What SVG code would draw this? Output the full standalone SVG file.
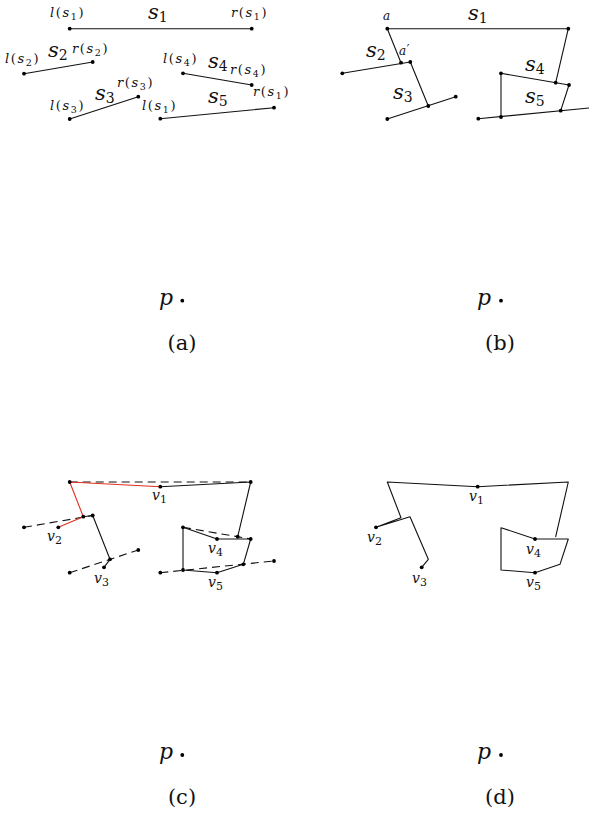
<svg xmlns="http://www.w3.org/2000/svg" width="589" height="815" viewBox="0 0 589 815">
<style>
.seg{stroke:#111;stroke-width:1.1;fill:none;stroke-linecap:round;stroke-linejoin:round}
.dash{stroke:#111;stroke-width:1.1;fill:none;stroke-dasharray:8 5}
.red{stroke:#e0301e;stroke-width:1.1;fill:none;stroke-linejoin:round}
.dot{fill:#000}
.t{font-family:"DejaVu Serif","Liberation Serif",serif;fill:#111}
.sm{font-size:13px;letter-spacing:1.6px}
.big{font-size:21px;font-style:italic}
.vl{font-size:14px;font-style:italic}
.i{font-style:italic}
.n{font-style:normal}
.cap{font-size:21px;text-anchor:middle}
.p{font-size:22px;font-style:italic}
</style>
<defs>
<circle id="d" r="1.9" class="dot"/>
</defs>

<!-- Panel (a) -->
<g id="panel-a">
<g id="a-segments">
<line class="seg" x1="69.7" y1="28.7" x2="251.7" y2="28.7"/>
<line class="seg" x1="24" y1="73.7" x2="92.7" y2="62"/>
<line class="seg" x1="69.7" y1="119" x2="138.3" y2="96.7"/>
<line class="seg" x1="183" y1="73.3" x2="251.7" y2="85"/>
<line class="seg" x1="160.3" y1="118.7" x2="274" y2="107.7"/>
</g>
<g id="a-dots">
<use href="#d" x="69.7" y="28.7"/><use href="#d" x="251.7" y="28.7"/>
<use href="#d" x="24" y="73.7"/><use href="#d" x="92.7" y="62"/>
<use href="#d" x="69.7" y="119"/><use href="#d" x="138.3" y="96.7"/>
<use href="#d" x="183" y="73.3"/><use href="#d" x="251.7" y="85"/>
<use href="#d" x="160.3" y="118.7"/><use href="#d" x="274" y="107.7"/>
<use href="#d" x="182.3" y="300.7"/>
</g>
<g id="a-labels">
<text class="t sm" x="50" y="17"><tspan class="i">l</tspan>(<tspan class="i">s</tspan><tspan dy="3" font-size="9.5">1</tspan><tspan dy="-3">)</tspan></text>
<text class="t sm" x="231" y="17"><tspan class="i">r</tspan>(<tspan class="i">s</tspan><tspan dy="3" font-size="9.5">1</tspan><tspan dy="-3">)</tspan></text>
<text class="t sm" x="5" y="63"><tspan class="i">l</tspan>(<tspan class="i">s</tspan><tspan dy="3" font-size="9.5">2</tspan><tspan dy="-3">)</tspan></text>
<text class="t sm" x="72" y="53"><tspan class="i">r</tspan>(<tspan class="i">s</tspan><tspan dy="3" font-size="9.5">2</tspan><tspan dy="-3">)</tspan></text>
<text class="t sm" x="50" y="110"><tspan class="i">l</tspan>(<tspan class="i">s</tspan><tspan dy="3" font-size="9.5">3</tspan><tspan dy="-3">)</tspan></text>
<text class="t sm" x="117" y="87"><tspan class="i">r</tspan>(<tspan class="i">s</tspan><tspan dy="3" font-size="9.5">3</tspan><tspan dy="-3">)</tspan></text>
<text class="t sm" x="163" y="63"><tspan class="i">l</tspan>(<tspan class="i">s</tspan><tspan dy="3" font-size="9.5">4</tspan><tspan dy="-3">)</tspan></text>
<text class="t sm" x="230" y="74"><tspan class="i">r</tspan>(<tspan class="i">s</tspan><tspan dy="3" font-size="9.5">4</tspan><tspan dy="-3">)</tspan></text>
<text class="t sm" x="142" y="110"><tspan class="i">l</tspan>(<tspan class="i">s</tspan><tspan dy="3" font-size="9.5">1</tspan><tspan dy="-3">)</tspan></text>
<text class="t sm" x="253" y="96"><tspan class="i">r</tspan>(<tspan class="i">s</tspan><tspan dy="3" font-size="9.5">1</tspan><tspan dy="-3">)</tspan></text>
<text class="t big" x="148" y="18.5">s<tspan class="n" dy="3" font-size="14">1</tspan></text>
<text class="t big" x="48" y="57">s<tspan class="n" dy="3" font-size="14">2</tspan></text>
<text class="t big" x="95" y="100">s<tspan class="n" dy="3" font-size="14">3</tspan></text>
<text class="t big" x="208" y="68">s<tspan class="n" dy="3" font-size="14">4</tspan></text>
<text class="t big" x="208" y="103">s<tspan class="n" dy="3" font-size="14">5</tspan></text>
<text class="t p" x="159" y="305">p</text>
<text class="t cap" x="182" y="350">(a)</text>
</g>
</g>

<!-- Panel (b) -->
<g id="panel-b">
<g id="b-segments">
<line class="seg" x1="387.3" y1="28.7" x2="568.3" y2="28.7"/>
<line class="seg" x1="387.3" y1="28.7" x2="401" y2="62.7"/>
<line class="seg" x1="342.3" y1="73.3" x2="410.3" y2="62"/>
<line class="seg" x1="410.3" y1="62" x2="428.3" y2="106"/>
<line class="seg" x1="387.3" y1="119" x2="455.7" y2="96.7"/>
<line class="seg" x1="501" y1="73.3" x2="569" y2="85"/>
<line class="seg" x1="568.3" y1="28.7" x2="555.7" y2="82.7"/>
<line class="seg" x1="501" y1="73.3" x2="501" y2="117"/>
<line class="seg" x1="478.3" y1="118.7" x2="592" y2="107.7"/>
<line class="seg" x1="569" y1="85" x2="560.7" y2="110.7"/>
</g>
<g id="b-dots">
<use href="#d" x="387.3" y="28.7"/><use href="#d" x="568.3" y="28.7"/>
<use href="#d" x="342.3" y="73.3"/><use href="#d" x="401" y="62.7"/>
<use href="#d" x="410.3" y="62"/><use href="#d" x="387.3" y="119"/>
<use href="#d" x="428.3" y="106"/><use href="#d" x="455.7" y="96.7"/>
<use href="#d" x="501" y="73.3"/><use href="#d" x="555.7" y="82.7"/>
<use href="#d" x="569" y="85"/><use href="#d" x="478.3" y="118.7"/>
<use href="#d" x="501" y="117"/><use href="#d" x="560.7" y="110.7"/>
<use href="#d" x="501" y="300.7"/>
</g>
<g id="b-labels">
<text class="t i" font-size="12" x="383" y="20">a</text>
<text class="t" font-size="12" x="399" y="55"><tspan class="i">a</tspan><tspan dx="0.5" dy="-1">′</tspan></text>
<text class="t big" x="468" y="19.5">s<tspan class="n" dy="3" font-size="14">1</tspan></text>
<text class="t big" x="366" y="57">s<tspan class="n" dy="3" font-size="14">2</tspan></text>
<text class="t big" x="393" y="99">s<tspan class="n" dy="3" font-size="14">3</tspan></text>
<text class="t big" x="525" y="71">s<tspan class="n" dy="3" font-size="14">4</tspan></text>
<text class="t big" x="525" y="103">s<tspan class="n" dy="3" font-size="14">5</tspan></text>
<text class="t p" x="477" y="305">p</text>
<text class="t cap" x="500" y="350">(b)</text>
</g>
</g>

<!-- Panel (c) -->
<g id="panel-c">
<g id="c-connectors">
<line class="dash" x1="69.7" y1="482" x2="250.7" y2="482"/>
<line class="dash" x1="24" y1="527.3" x2="92.7" y2="515.5"/>
<line class="dash" x1="69.7" y1="572.7" x2="138.3" y2="550"/>
<line class="dash" x1="183" y1="527.3" x2="250.7" y2="539"/>
<line class="dash" x1="160.3" y1="572.7" x2="274" y2="561"/>
<polyline class="seg" points="160.3,486.7 250.7,482 237.7,536.7"/>
<polyline class="seg" points="83.3,516.7 92.7,515.5 110,559.3 104,567.3"/>
<polygon class="seg" points="183,527.3 217,539 250.7,539 243.3,564.3 217,572.7 183,570"/>
<polyline class="red" points="58.3,527.3 83.3,516.7 69.7,482 160.3,486.7"/>
</g>
<g id="c-dots">
<use href="#d" x="69.7" y="482"/><use href="#d" x="160.3" y="486.7"/><use href="#d" x="250.7" y="482"/>
<use href="#d" x="24" y="527.3"/><use href="#d" x="83.3" y="516.7"/><use href="#d" x="58.3" y="527.3"/>
<use href="#d" x="92.7" y="515.5"/><use href="#d" x="110" y="559.3"/><use href="#d" x="104" y="567.3"/>
<use href="#d" x="69.7" y="572.7"/><use href="#d" x="138.3" y="550"/>
<use href="#d" x="183" y="527.3"/><use href="#d" x="217" y="539"/><use href="#d" x="237.7" y="536.7"/>
<use href="#d" x="250.7" y="539"/><use href="#d" x="160.3" y="572.7"/><use href="#d" x="183" y="570"/>
<use href="#d" x="243.3" y="564.3"/><use href="#d" x="217" y="572.7"/><use href="#d" x="274" y="561"/>
<use href="#d" x="182.3" y="755"/>
</g>
<g id="c-labels">
<text class="t vl" x="152" y="500">v<tspan class="n" dy="3" font-size="11">1</tspan></text>
<text class="t vl" x="47" y="541">v<tspan class="n" dy="3" font-size="11">2</tspan></text>
<text class="t vl" x="94" y="583">v<tspan class="n" dy="3" font-size="11">3</tspan></text>
<text class="t vl" x="208" y="553">v<tspan class="n" dy="3" font-size="11">4</tspan></text>
<text class="t vl" x="208" y="587">v<tspan class="n" dy="3" font-size="11">5</tspan></text>
<text class="t p" x="159" y="759">p</text>
<text class="t cap" x="182" y="804">(c)</text>
</g>
</g>

<!-- Panel (d) -->
<g id="panel-d">
<g id="d-connectors">
<polyline class="seg" points="421.7,567.3 428.3,559.3 410,516.7 376,527.3 401,517.7 387.3,482 477.7,486.7 568.3,482 555.7,536.7"/>
<polygon class="seg" points="501,527.7 535,539 568.3,539 560,564.3 535,572.7 501,570"/>
</g>
<g id="d-dots">
<use href="#d" x="477.7" y="486.7"/><use href="#d" x="376" y="527.3"/>
<use href="#d" x="421.7" y="567.3"/><use href="#d" x="535" y="539"/>
<use href="#d" x="535" y="572.7"/>
<use href="#d" x="501" y="755"/>
</g>
<g id="d-labels">
<text class="t vl" x="469" y="501">v<tspan class="n" dy="3" font-size="11">1</tspan></text>
<text class="t vl" x="367" y="542">v<tspan class="n" dy="3" font-size="11">2</tspan></text>
<text class="t vl" x="412" y="583">v<tspan class="n" dy="3" font-size="11">3</tspan></text>
<text class="t vl" x="526" y="554">v<tspan class="n" dy="3" font-size="11">4</tspan></text>
<text class="t vl" x="526" y="587">v<tspan class="n" dy="3" font-size="11">5</tspan></text>
<text class="t p" x="477" y="759">p</text>
<text class="t cap" x="500" y="804">(d)</text>
</g>
</g>
</svg>
